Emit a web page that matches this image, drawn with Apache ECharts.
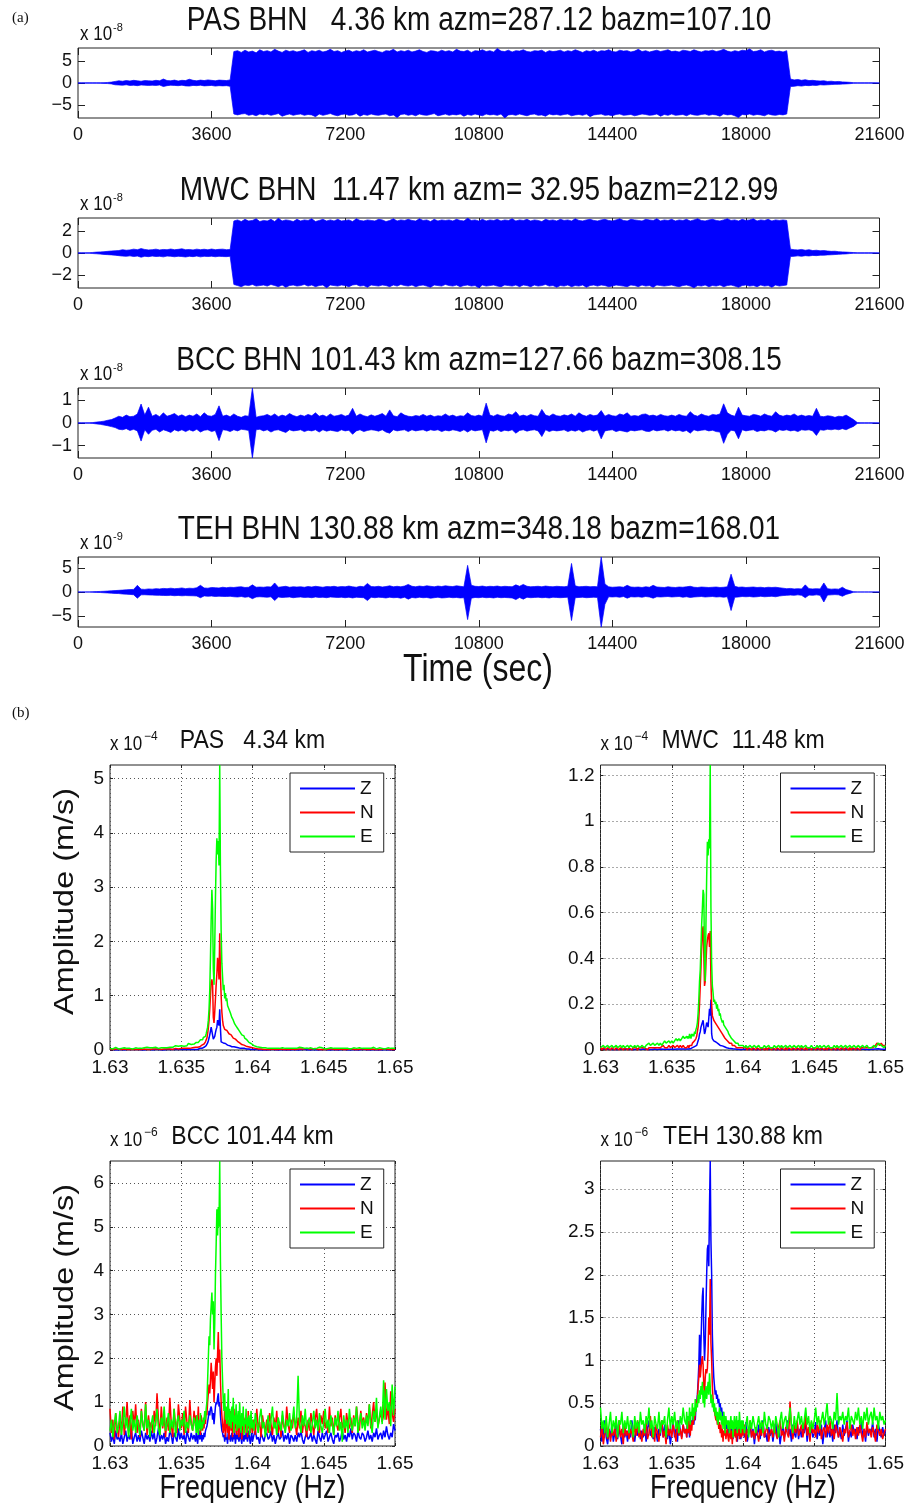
<!DOCTYPE html>
<html><head><meta charset="utf-8">
<script src="https://cdn.jsdelivr.net/npm/echarts@6/dist/echarts.min.js"></script>
<style>html,body{margin:0;padding:0;background:#fff}#c{width:908px;height:1503px}</style>
</head><body><div id="c"></div><script>
// ================= DATA =================
// (a) seismogram envelopes, one sample every TIME_STEP seconds from 0 to 21600
const TIME_STEP = 100;
const TIME_END = 21600;
const TIME_TICKS = [0, 3600, 7200, 10800, 14400, 18000, 21600];
const SEIS_TITLES = ['PAS BHN   4.36 km azm=287.12 bazm=107.10', 'MWC BHN  11.47 km azm= 32.95 bazm=212.99',
  'BCC BHN 101.43 km azm=127.66 bazm=308.15', 'TEH BHN 130.88 km azm=348.18 bazm=168.01'];
const SEIS_EXP = ['-8', '-8', '-8', '-9'];
const SEIS_YTICKS = [[-5, 0, 5], [-2, 0, 2], [-1, 0, 1], [-5, 0, 5]];
const SEIS_YLIM = [7.9, 3.17, 1.55, 7.36];

const PAS_UP = [
0.03,0.03,0.03,0.03,0.03,0.04,0.05,0.08,0.12,0.2,
0.35,0.5,0.4,0.55,0.45,0.6,0.5,0.4,0.55,0.5,
0.45,0.6,0.5,0.9,0.55,0.5,0.65,0.45,0.6,0.55,
0.85,0.6,0.5,0.65,0.55,0.7,0.6,0.5,0.65,0.6,
0.55,0.7,7.1,7.3,6.9,7.4,7.0,7.2,6.8,7.5,
7.1,7.3,7.0,7.6,7.2,6.9,7.4,7.1,7.3,7.0,
7.2,7.5,6.9,7.3,7.1,7.4,7.0,7.2,7.6,7.1,
7.3,6.9,7.2,7.4,7.0,7.3,7.1,7.5,7.0,7.2,
7.4,7.1,6.9,7.3,7.2,7.6,7.0,7.3,7.1,7.4,
7.0,7.2,7.5,7.1,6.9,7.3,7.2,7.0,7.4,7.1,
7.3,7.0,7.6,7.2,7.1,7.4,6.9,7.3,7.2,7.5,
7.1,7.3,7.0,7.8,7.2,7.1,7.4,7.0,7.3,7.2,
7.5,7.1,7.0,7.3,7.2,7.4,6.9,7.3,7.1,7.2,
7.4,7.0,7.3,7.1,7.5,7.2,6.9,7.3,7.1,7.4,
7.0,7.3,7.2,7.5,7.1,7.0,7.4,7.2,7.3,7.0,
7.2,7.6,7.1,7.3,7.0,7.2,7.4,7.1,7.3,7.5,
7.1,7.2,7.0,7.4,7.3,7.1,7.5,7.2,7.0,7.3,
7.2,7.4,7.1,7.3,7.6,7.2,7.0,7.3,7.1,7.4,
7.3,7.7,7.1,7.2,7.5,7.0,7.3,7.4,7.1,7.2,
7.0,7.3,0.9,0.7,0.8,0.6,0.75,0.55,0.6,0.5,
0.45,0.5,0.35,0.4,0.3,0.35,0.25,0.2,0.15,0.08,
0.03,0.03,0.03,0.03,0.03,0.03,0.03];
const PAS_LO = [
-0.03,-0.03,-0.03,-0.03,-0.03,-0.04,-0.06,-0.09,-0.13,-0.2,
-0.4,-0.45,-0.5,-0.4,-0.55,-0.5,-0.6,-0.45,-0.5,-0.55,
-0.5,-0.55,-0.45,-0.8,-0.6,-0.5,-0.55,-0.6,-0.5,-0.65,
-0.7,-0.55,-0.6,-0.5,-0.65,-0.6,-0.55,-0.7,-0.6,-0.65,
-0.6,-0.75,-7.0,-7.2,-7.0,-6.9,-7.3,-7.1,-7.4,-7.0,
-7.2,-7.0,-7.3,-7.1,-6.9,-7.5,-7.2,-7.0,-7.3,-7.1,
-7.0,-7.3,-7.1,-7.2,-7.6,-7.0,-7.3,-7.1,-6.9,-7.2,
-7.4,-7.1,-7.0,-7.3,-7.2,-6.9,-7.5,-7.1,-7.3,-7.0,
-7.2,-7.3,-7.1,-7.0,-7.4,-7.2,-7.8,-7.1,-7.0,-7.3,
-7.1,-7.4,-7.0,-7.2,-7.3,-7.1,-6.9,-7.4,-7.2,-7.0,
-7.3,-7.1,-7.2,-7.0,-7.5,-7.1,-7.3,-7.0,-7.2,-7.4,
-7.0,-7.2,-7.1,-7.3,-7.0,-7.9,-7.2,-7.1,-7.3,-7.0,
-7.2,-7.4,-7.1,-7.0,-7.3,-7.2,-7.5,-7.0,-7.2,-7.1,
-7.3,-7.1,-7.0,-7.4,-7.2,-7.1,-7.3,-7.0,-7.6,-7.2,
-7.1,-7.0,-7.3,-7.2,-7.4,-7.1,-7.0,-7.3,-7.2,-7.1,
-7.4,-7.2,-7.0,-7.1,-7.3,-7.2,-7.0,-7.5,-7.1,-7.3,
-7.0,-7.3,-7.2,-7.1,-7.4,-7.0,-7.2,-7.3,-7.1,-7.0,
-7.3,-7.1,-7.2,-7.5,-7.0,-7.2,-7.1,-7.4,-7.8,-7.1,
-7.2,-7.0,-7.3,-7.1,-7.2,-7.4,-7.0,-7.2,-7.3,-7.1,
-7.2,-7.0,-0.8,-0.75,-0.6,-0.7,-0.55,-0.6,-0.5,-0.55,
-0.4,-0.45,-0.4,-0.35,-0.3,-0.3,-0.25,-0.2,-0.15,-0.08,
-0.03,-0.03,-0.03,-0.03,-0.03,-0.03,-0.03];

const MWC_UP = [
0.02,0.02,0.02,0.02,0.05,0.08,0.1,0.12,0.15,0.18,
0.2,0.22,0.3,0.25,0.28,0.35,0.3,0.4,0.32,0.28,
0.3,0.35,0.28,0.32,0.3,0.36,0.3,0.33,0.38,0.3,
0.32,0.28,0.35,0.3,0.34,0.29,0.36,0.3,0.33,0.35,
0.3,0.32,2.9,3.0,2.85,3.05,2.9,2.95,3.1,2.85,
2.95,2.9,3.05,2.85,3.15,2.9,3.0,2.95,2.85,3.05,
2.9,3.0,2.95,3.1,2.85,2.95,3.05,2.9,3.0,2.9,
3.05,2.9,2.95,3.0,2.85,3.1,2.95,2.9,3.0,2.95,
2.9,3.05,3.0,2.85,2.95,3.1,2.9,3.0,2.95,3.05,
2.95,2.9,3.1,2.95,3.0,2.85,3.05,2.9,3.0,2.95,
3.0,2.9,3.05,2.95,2.9,3.15,2.95,3.0,2.9,3.05,
2.9,3.0,2.95,3.05,2.9,3.0,2.95,3.1,2.9,3.0,
2.95,3.05,2.9,3.0,2.95,2.85,3.05,2.95,3.0,2.9,
3.05,2.95,3.0,2.9,3.1,2.95,2.9,3.0,3.05,2.95,
2.9,3.0,3.05,2.95,2.9,3.0,3.1,2.95,2.9,3.05,
3.0,2.95,2.9,3.05,3.0,2.95,3.1,2.9,3.0,2.95,
3.05,2.9,3.0,2.95,3.05,2.9,3.0,3.1,2.95,2.9,
3.0,3.05,2.95,2.9,3.0,3.1,2.95,3.0,2.9,3.05,
2.95,3.0,3.1,2.9,3.0,2.95,3.05,2.9,3.0,2.95,
3.0,2.95,0.35,0.3,0.28,0.32,0.25,0.3,0.22,0.25,
0.2,0.22,0.18,0.15,0.16,0.12,0.1,0.08,0.06,0.04,
0.02,0.02,0.02,0.02,0.02,0.02,0.02];
const MWC_LO = [
-0.02,-0.02,-0.02,-0.02,-0.05,-0.07,-0.1,-0.13,-0.15,-0.17,
-0.2,-0.24,-0.28,-0.3,-0.26,-0.32,-0.28,-0.38,-0.3,-0.33,
-0.28,-0.32,-0.3,-0.35,-0.28,-0.3,-0.34,-0.3,-0.32,-0.36,
-0.3,-0.33,-0.28,-0.35,-0.3,-0.32,-0.29,-0.34,-0.3,-0.32,
-0.33,-0.3,-2.85,-2.95,-3.05,-2.9,-2.95,-2.85,-3.0,-2.95,
-2.9,-3.0,-2.85,-2.95,-3.05,-2.9,-3.1,-2.95,-2.9,-3.0,
-2.95,-2.85,-3.0,-2.9,-3.05,-2.95,-2.9,-3.15,-2.9,-2.95,
-3.0,-2.9,-2.95,-3.05,-2.9,-2.85,-3.0,-2.95,-3.1,-2.9,
-2.95,-3.0,-2.9,-2.95,-3.05,-2.9,-3.0,-2.85,-2.95,-3.0,
-2.9,-3.05,-2.95,-2.9,-3.0,-3.1,-2.9,-2.95,-3.0,-2.85,
-2.95,-3.0,-2.9,-3.05,-2.95,-2.9,-3.0,-2.95,-3.15,-2.9,
-3.0,-2.95,-2.9,-3.0,-3.05,-2.9,-2.95,-3.0,-2.9,-3.05,
-2.9,-2.95,-3.05,-2.9,-3.0,-2.95,-2.85,-3.0,-2.95,-3.1,
-2.95,-3.0,-2.9,-3.05,-2.95,-3.0,-2.9,-3.1,-2.95,-2.9,
-3.0,-2.9,-2.95,-3.05,-3.0,-2.9,-2.95,-3.0,-3.05,-2.9,
-2.95,-3.05,-2.9,-3.0,-2.95,-3.1,-2.9,-2.95,-3.0,-2.95,
-2.9,-3.0,-3.05,-2.95,-2.9,-3.0,-3.15,-2.95,-3.0,-2.9,
-3.05,-2.95,-3.0,-2.9,-3.05,-2.95,-2.9,-3.0,-3.1,-2.95,
-2.9,-3.0,-2.95,-3.05,-2.9,-3.0,-2.95,-3.1,-2.9,-3.0,
-2.95,-2.9,-0.32,-0.3,-0.26,-0.3,-0.24,-0.27,-0.22,-0.24,
-0.2,-0.2,-0.17,-0.16,-0.14,-0.12,-0.1,-0.08,-0.05,-0.03,
-0.02,-0.02,-0.02,-0.02,-0.02,-0.02,-0.02];

const BCC_UP = [
0.01,0.01,0.01,0.01,0.02,0.04,0.06,0.08,0.12,0.15,
0.22,0.3,0.25,0.35,0.28,0.3,0.4,0.84,0.35,0.7,
0.3,0.38,0.28,0.45,0.3,0.35,0.42,0.3,0.36,0.28,
0.35,0.3,0.4,0.28,0.45,0.32,0.3,0.38,0.76,0.3,
0.35,0.28,0.4,0.3,0.25,0.32,0.3,1.55,0.25,0.3,
0.32,0.38,0.3,0.4,0.28,0.35,0.3,0.42,0.33,0.28,
0.35,0.3,0.38,0.32,0.45,0.3,0.35,0.28,0.4,0.3,
0.33,0.38,0.3,0.35,0.65,0.3,0.4,0.32,0.28,0.36,
0.3,0.35,0.42,0.3,0.58,0.32,0.28,0.45,0.35,0.3,
0.28,0.33,0.3,0.38,0.3,0.35,0.28,0.32,0.3,0.4,
0.3,0.35,0.28,0.32,0.3,0.45,0.33,0.3,0.35,0.3,
0.88,0.35,0.3,0.38,0.32,0.3,0.4,0.35,0.5,0.3,
0.35,0.3,0.38,0.32,0.3,0.6,0.35,0.3,0.4,0.32,
0.3,0.36,0.32,0.4,0.3,0.45,0.35,0.3,0.38,0.32,
0.35,0.55,0.3,0.38,0.32,0.3,0.4,0.35,0.45,0.3,
0.33,0.3,0.38,0.4,0.32,0.35,0.3,0.38,0.32,0.3,
0.35,0.3,0.38,0.32,0.3,0.5,0.35,0.3,0.4,0.33,
0.3,0.38,0.35,0.4,0.85,0.45,0.35,0.3,0.7,0.35,
0.32,0.3,0.38,0.35,0.3,0.4,0.33,0.3,0.5,0.35,
0.3,0.35,0.32,0.4,0.3,0.35,0.3,0.33,0.3,0.65,
0.3,0.28,0.32,0.3,0.25,0.3,0.28,0.35,0.25,0.15,
0.02,0.01,0.01,0.01,0.01,0.01,0.01];
const BCC_LO = [
-0.01,-0.01,-0.01,-0.01,-0.02,-0.04,-0.06,-0.09,-0.12,-0.16,
-0.2,-0.28,-0.3,-0.25,-0.33,-0.28,-0.35,-0.8,-0.3,-0.5,
-0.32,-0.28,-0.4,-0.3,-0.35,-0.42,-0.3,-0.36,-0.3,-0.38,
-0.3,-0.36,-0.28,-0.4,-0.32,-0.3,-0.38,-0.33,-0.78,-0.3,
-0.32,-0.38,-0.3,-0.35,-0.28,-0.3,-0.33,-1.55,-0.3,-0.28,
-0.35,-0.3,-0.4,-0.32,-0.3,-0.36,-0.42,-0.3,-0.35,-0.33,
-0.3,-0.38,-0.32,-0.35,-0.3,-0.4,-0.3,-0.36,-0.32,-0.35,
-0.38,-0.3,-0.35,-0.32,-0.5,-0.35,-0.3,-0.38,-0.33,-0.3,
-0.32,-0.36,-0.3,-0.4,-0.45,-0.3,-0.35,-0.32,-0.3,-0.38,
-0.3,-0.35,-0.32,-0.3,-0.36,-0.3,-0.33,-0.3,-0.38,-0.32,
-0.35,-0.3,-0.33,-0.38,-0.3,-0.4,-0.3,-0.35,-0.32,-0.3,
-0.88,-0.33,-0.36,-0.3,-0.38,-0.32,-0.35,-0.3,-0.45,-0.33,
-0.3,-0.36,-0.32,-0.3,-0.35,-0.6,-0.3,-0.38,-0.32,-0.35,
-0.33,-0.3,-0.38,-0.32,-0.36,-0.3,-0.4,-0.33,-0.3,-0.36,
-0.3,-0.7,-0.35,-0.32,-0.3,-0.38,-0.33,-0.36,-0.4,-0.32,
-0.35,-0.32,-0.3,-0.36,-0.38,-0.3,-0.35,-0.32,-0.3,-0.36,
-0.3,-0.35,-0.32,-0.38,-0.33,-0.45,-0.3,-0.35,-0.32,-0.3,
-0.35,-0.32,-0.38,-0.4,-0.9,-0.5,-0.32,-0.35,-0.7,-0.3,
-0.35,-0.32,-0.3,-0.38,-0.33,-0.35,-0.3,-0.32,-0.4,-0.3,
-0.33,-0.3,-0.35,-0.32,-0.38,-0.3,-0.32,-0.3,-0.35,-0.55,
-0.3,-0.32,-0.28,-0.3,-0.27,-0.3,-0.25,-0.3,-0.22,-0.15,
-0.02,-0.01,-0.01,-0.01,-0.01,-0.01,-0.01];

const TEH_UP = [
0.02,0.02,0.02,0.02,0.05,0.08,0.12,0.15,0.2,0.25,
0.3,0.35,0.4,0.45,0.5,0.55,1.4,0.6,0.55,0.65,
0.6,0.7,0.65,0.75,0.7,0.8,0.7,0.75,0.85,0.7,
0.8,0.75,0.9,1.4,0.85,0.8,0.95,0.9,0.85,1.0,
0.9,1.0,0.95,1.05,1.1,0.95,1.0,1.5,1.0,1.05,
1.0,1.1,1.05,1.9,1.0,1.1,1.2,1.0,1.1,1.05,
1.1,1.0,1.15,1.05,1.2,1.1,1.0,1.15,1.1,1.2,
1.05,1.15,1.1,1.25,1.1,1.0,1.2,1.1,1.8,1.15,
1.1,1.2,1.05,1.15,1.3,1.1,1.2,1.1,1.25,1.6,
1.2,1.1,1.25,1.15,1.3,1.2,1.1,1.25,1.15,1.3,
1.2,1.15,1.3,1.2,1.1,5.6,1.4,1.2,1.15,1.25,
1.1,1.2,1.15,1.25,1.1,1.2,1.15,1.1,1.5,1.2,
1.6,1.2,1.1,1.15,1.2,1.1,1.25,1.15,1.1,1.2,
1.15,1.1,1.2,6.0,1.3,1.1,1.15,1.2,1.1,1.15,
1.1,7.4,1.7,1.1,1.0,1.05,1.1,1.0,1.4,1.05,
1.0,1.05,0.95,1.1,1.0,1.4,1.05,1.0,0.95,1.1,
1.0,0.95,1.05,1.0,1.1,1.2,1.0,0.95,1.05,1.0,
0.95,1.0,1.05,0.95,1.0,1.1,3.75,1.2,1.0,1.05,
0.95,1.0,1.05,0.95,1.0,0.9,1.0,0.95,1.0,0.9,
0.8,0.7,0.75,0.65,0.7,0.65,1.5,0.7,0.65,0.7,
0.65,1.9,0.7,0.6,0.65,0.6,1.0,0.5,0.3,0.05,
0.02,0.02,0.02,0.02,0.02,0.02,0.02];
const TEH_LO = [
-0.02,-0.02,-0.02,-0.02,-0.05,-0.08,-0.11,-0.16,-0.2,-0.24,
-0.3,-0.33,-0.42,-0.45,-0.5,-0.58,-1.3,-0.6,-0.58,-0.62,
-0.65,-0.68,-0.7,-0.72,-0.75,-0.7,-0.78,-0.72,-0.8,-0.75,
-0.78,-0.8,-0.85,-1.2,-0.82,-0.9,-0.85,-0.95,-0.88,-0.92,
-0.95,-0.9,-1.0,-1.05,-0.95,-1.1,-1.0,-1.4,-1.05,-1.0,
-1.05,-1.1,-1.0,-1.8,-1.05,-1.15,-1.1,-1.05,-1.2,-1.1,
-1.05,-1.15,-1.1,-1.2,-1.05,-1.15,-1.1,-1.2,-1.05,-1.1,
-1.15,-1.1,-1.2,-1.1,-1.25,-1.1,-1.15,-1.2,-1.8,-1.1,
-1.2,-1.1,-1.15,-1.25,-1.1,-1.2,-1.15,-1.3,-1.1,-1.5,
-1.15,-1.25,-1.1,-1.2,-1.15,-1.3,-1.2,-1.1,-1.25,-1.2,
-1.1,-1.2,-1.15,-1.25,-1.2,-5.8,-1.3,-1.15,-1.2,-1.1,
-1.2,-1.15,-1.25,-1.1,-1.2,-1.15,-1.2,-1.25,-1.6,-1.15,
-1.5,-1.1,-1.2,-1.15,-1.1,-1.2,-1.15,-1.25,-1.1,-1.15,
-1.2,-1.15,-1.1,-6.0,-1.2,-1.15,-1.1,-1.2,-1.15,-1.1,
-1.15,-7.4,-2.6,-1.0,-1.05,-1.0,-1.1,-0.95,-1.3,-1.0,
-1.05,-1.0,-1.1,-0.95,-1.05,-1.3,-1.0,-1.05,-1.0,-0.95,
-1.05,-1.0,-0.95,-1.1,-1.0,-1.15,-1.05,-1.0,-0.95,-1.05,
-1.0,-0.95,-1.05,-1.0,-1.1,-1.0,-3.9,-1.1,-1.05,-0.95,
-1.0,-0.95,-1.05,-1.0,-0.9,-1.0,-0.95,-0.9,-1.0,-0.85,
-0.75,-0.7,-0.65,-0.7,-0.6,-0.7,-1.2,-0.65,-0.7,-0.6,
-0.7,-2.1,-0.65,-0.6,-0.55,-0.6,-0.9,-0.5,-0.3,-0.05,
-0.02,-0.02,-0.02,-0.02,-0.02,-0.02,-0.02];

// (b) spectra; frequency sample grid: [start, end, step]
const FREQ_SEGMENTS = [[1.6300, 1.6359, 0.0001], [1.6360, 1.63995, 0.00005], [1.6400, 1.6500, 0.0001]];
const FREQ_TICKS = [1.63, 1.635, 1.64, 1.645, 1.65];
const SPEC_TITLES = ['PAS   4.34 km', 'MWC  11.48 km', 'BCC 101.44 km', 'TEH 130.88 km'];
const SPEC_EXP = ['\u22124', '\u22124', '\u22126', '\u22126'];
const SPEC_YTICKS = [[0,1,2,3,4,5], [0,0.2,0.4,0.6,0.8,1,1.2], [0,1,2,3,4,5,6], [0,0.5,1,1.5,2,2.5,3]];
const SPEC_YMAX = [5.25, 1.245, 6.5, 3.33];
const SPEC_YSTEP = [1, 0.2, 1, 0.5];
const COMPONENTS = ['Z', 'N', 'E'];

const PAS_Z = [
0.01,0,0.01,0.01,0,0.01,0,0.01,0.01,0,
0,0.01,0.01,0,0.01,0,0.01,0,0.01,0.01,
0.01,0.01,0,0.01,0,0.01,0.01,0,0.01,0,
0,0.01,0.01,0,0.01,0.01,0,0.01,0,0.01,
0.01,0,0.01,0.01,0.01,0,0.01,0.01,0.01,0.01,
0.01,0.01,0.01,0.01,0.01,0.01,0.01,0.01,0.01,0.01,
0.01,0.01,0.02,0.01,0.02,0.02,0.03,0.02,0.03,0.03,
0.04,0.04,0.05,0.06,0.07,0.08,0.1,0.13,0.17,0.22,
0.28,0.35,0.42,0.45,0.4,0.2,0.18,0.25,0.32,0.38,
0.42,0.55,0.5,0.45,0.75,0.4,0.15,0.13,0.12,0.13,
0.12,0.11,0.12,0.1,0.1,0.09,0.1,0.08,0.08,0.07,
0.07,0.06,0.07,0.06,0.06,0.05,0.05,0.05,0.04,0.05,
0.04,0.04,0.04,0.03,0.04,0.03,0.03,0.03,0.02,0.03,
0.02,0.02,0.02,0.02,0.01,0.02,0.01,0.01,0.01,0.01,
0.01,0.01,0.01,0.01,0.01,0,0.01,0,0.01,0,
0.01,0,0,0.01,0,0.01,0,0,0.01,0,
0,0.01,0,0,0.01,0,0.01,0,0,0.01,
0,0,0.01,0,0,0.01,0,0.01,0,0,
0.01,0,0,0.01,0,0,0.01,0,0,0.01,
0,0.01,0,0,0.01,0,0,0.01,0,0,
0.01,0,0,0.01,0,0.01,0,0,0.01,0,
0,0.01,0,0,0.01,0,0,0.01,0,0.01,
0,0,0.01,0,0,0.01,0,0,0.01,0,
0.01,0,0,0.01,0,0,0.01,0,0,0.01,
0];
const PAS_N = [
0.01,0.02,0.01,0.01,0.02,0.01,0.02,0.01,0.01,0.02,
0.02,0.01,0.01,0.02,0.01,0.02,0.01,0.02,0.01,0.01,
0.01,0.02,0.01,0.02,0.02,0.01,0.01,0.02,0.01,0.02,
0.02,0.01,0.02,0.01,0.02,0.02,0.01,0.02,0.02,0.01,
0.02,0.01,0.02,0.02,0.01,0.02,0.03,0.02,0.02,0.03,
0.03,0.02,0.03,0.04,0.03,0.04,0.03,0.05,0.04,0.05,
0.05,0.04,0.06,0.05,0.06,0.07,0.06,0.08,0.07,0.09,
0.1,0.12,0.11,0.14,0.15,0.18,0.22,0.3,0.4,0.55,
0.75,1.0,1.25,1.3,1.2,0.6,0.5,0.7,0.95,1.2,
1.4,1.7,1.55,1.3,2.15,1.4,1.0,0.7,0.55,0.45,
0.42,0.38,0.4,0.35,0.36,0.33,0.34,0.3,0.31,0.28,
0.28,0.25,0.25,0.22,0.22,0.2,0.2,0.18,0.18,0.16,
0.15,0.14,0.13,0.12,0.12,0.1,0.1,0.09,0.09,0.08,
0.08,0.07,0.07,0.06,0.06,0.05,0.05,0.05,0.04,0.04,
0.04,0.03,0.03,0.03,0.02,0.02,0.02,0.02,0.01,0.02,
0.01,0.02,0.01,0.01,0.02,0.01,0.01,0.02,0.01,0.01,
0.02,0.01,0.01,0.02,0.01,0.02,0.01,0.01,0.02,0.01,
0.01,0.02,0.02,0.01,0.02,0.03,0.02,0.02,0.03,0.02,
0.02,0.03,0.02,0.02,0.03,0.02,0.01,0.02,0.01,0.01,
0.01,0.02,0.01,0.01,0.02,0.01,0.02,0.01,0.01,0.02,
0.01,0.01,0.02,0.01,0.01,0.02,0.01,0.01,0.02,0.01,
0.02,0.01,0.01,0.02,0.01,0.01,0.02,0.01,0.02,0.01,
0.01,0.02,0.01,0.01,0.02,0.01,0.01,0.02,0.01,0.02,
0.01,0.01,0.02,0.01,0.02,0.01,0.01,0.02,0.01,0.01,
0.01];
const PAS_E = [
0.03,0.04,0.02,0.03,0.05,0.03,0.02,0.04,0.03,0.03,
0.04,0.02,0.03,0.05,0.03,0.04,0.02,0.03,0.04,0.03,
0.03,0.05,0.03,0.02,0.04,0.03,0.05,0.03,0.04,0.03,
0.04,0.03,0.05,0.04,0.03,0.05,0.04,0.06,0.04,0.05,
0.04,0.06,0.05,0.07,0.05,0.06,0.08,0.05,0.07,0.06,
0.08,0.1,0.07,0.09,0.08,0.12,0.09,0.1,0.13,0.11,
0.12,0.14,0.12,0.16,0.14,0.17,0.15,0.19,0.17,0.21,
0.19,0.23,0.22,0.26,0.25,0.3,0.33,0.42,0.55,0.75,
1.1,1.7,2.4,2.95,2.6,1.5,1.2,1.9,2.8,3.5,
3.9,3.6,3.85,3.4,5.25,3.3,2.2,1.6,1.35,1.1,
1.2,0.95,1.05,0.9,0.95,0.82,0.85,0.75,0.78,0.68,
0.7,0.6,0.62,0.55,0.56,0.48,0.5,0.44,0.45,0.4,
0.41,0.36,0.37,0.32,0.33,0.28,0.29,0.25,0.26,0.22,
0.22,0.19,0.19,0.16,0.16,0.14,0.14,0.12,0.12,0.1,
0.09,0.08,0.07,0.06,0.06,0.05,0.05,0.04,0.05,0.04,
0.04,0.03,0.04,0.03,0.04,0.03,0.02,0.03,0.04,0.03,
0.03,0.04,0.02,0.03,0.04,0.03,0.05,0.03,0.02,0.03,
0.04,0.03,0.03,0.05,0.03,0.04,0.02,0.03,0.04,0.03,
0.03,0.04,0.03,0.02,0.04,0.03,0.03,0.05,0.03,0.04,
0.03,0.02,0.04,0.03,0.03,0.04,0.02,0.03,0.04,0.03,
0.04,0.03,0.02,0.03,0.04,0.03,0.05,0.03,0.03,0.02,
0.03,0.04,0.03,0.03,0.02,0.04,0.03,0.03,0.04,0.03,
0.02,0.03,0.04,0.03,0.03,0.05,0.03,0.02,0.03,0.04,
0.03,0.03,0.04,0.02,0.03,0.04,0.03,0.03,0.04,0.03,
0.03];

const MWC_Z = [
0.003,0.002,0.004,0.002,0.003,0.002,0.003,0.004,0.002,0.003,
0.002,0.003,0.002,0.004,0.003,0.002,0.003,0.002,0.004,0.002,
0.003,0.004,0.002,0.003,0.002,0.003,0.004,0.003,0.002,0.003,
0.004,0.002,0.003,0.003,0.002,0.004,0.002,0.003,0.004,0.003,
0.002,0.003,0.004,0.002,0.003,0.004,0.003,0.002,0.003,0.004,
0.003,0.004,0.003,0.002,0.004,0.003,0.004,0.003,0.004,0.003,
0.004,0.003,0.005,0.004,0.005,0.005,0.005,0.01,0.005,0.01,
0.01,0.01,0.015,0.015,0.02,0.02,0.03,0.04,0.05,0.07,
0.08,0.1,0.11,0.12,0.13,0.1,0.07,0.08,0.1,0.12,
0.12,0.1,0.14,0.18,0.15,0.22,0.07,0.05,0.045,0.04,
0.04,0.035,0.035,0.03,0.03,0.028,0.025,0.025,0.02,0.02,
0.02,0.018,0.016,0.015,0.014,0.012,0.012,0.01,0.01,0.01,
0.008,0.008,0.007,0.007,0.006,0.006,0.005,0.005,0.005,0.004,
0.004,0.004,0.003,0.003,0.003,0.002,0.002,0.002,0.002,0.002,
0.002,0.003,0.002,0.004,0.002,0.003,0.002,0.003,0.004,0.002,
0.003,0.002,0.004,0.003,0.002,0.003,0.002,0.004,0.002,0.003,
0.002,0.004,0.003,0.002,0.003,0.002,0.004,0.002,0.003,0.002,
0.004,0.002,0.003,0.002,0.004,0.003,0.002,0.003,0.002,0.004,
0.003,0.002,0.004,0.002,0.003,0.002,0.003,0.004,0.002,0.003,
0.002,0.003,0.002,0.004,0.002,0.003,0.004,0.002,0.003,0.002,
0.004,0.003,0.002,0.003,0.004,0.002,0.003,0.002,0.004,0.003,
0.002,0.004,0.003,0.002,0.003,0.004,0.002,0.003,0.002,0.004,
0.003,0.002,0.004,0.003,0.002,0.003,0.004,0.002,0.003,0.002,
0.004,0.003,0.002,0.004,0.003,0.005,0.004,0.003,0.004,0.003,
0.003];
const MWC_N = [
0.01,0,0.01,0.01,0,0.01,0.01,0,0.01,0.01,
0,0.01,0.01,0,0.01,0.01,0,0.01,0.01,0,
0.01,0.01,0,0.01,0.01,0.01,0,0.01,0.01,0.01,
0.01,0.01,0.01,0,0.01,0.01,0.01,0.01,0.01,0.01,
0.01,0.01,0.01,0.01,0.02,0.01,0.01,0.01,0.02,0.01,
0.01,0.02,0.01,0.01,0.02,0.01,0.02,0.01,0.02,0.01,
0.01,0.01,0.01,0.02,0.01,0.02,0.02,0.02,0.02,0.03,
0.03,0.03,0.04,0.04,0.05,0.06,0.08,0.1,0.14,0.2,
0.28,0.36,0.45,0.52,0.54,0.42,0.28,0.3,0.38,0.45,
0.48,0.5,0.51,0.45,0.52,0.3,0.2,0.15,0.14,0.13,
0.13,0.12,0.12,0.11,0.11,0.1,0.1,0.09,0.09,0.08,
0.08,0.07,0.07,0.06,0.06,0.05,0.05,0.05,0.04,0.04,
0.04,0.03,0.03,0.03,0.03,0.02,0.02,0.02,0.02,0.02,
0.02,0.01,0.01,0.01,0.01,0.01,0.01,0.01,0.01,0.01,
0.01,0.01,0.01,0,0.01,0.01,0,0.01,0.01,0,
0.01,0.01,0,0.01,0.01,0,0.01,0,0.01,0.01,
0,0.01,0.01,0,0.01,0.01,0,0.01,0.01,0,
0.01,0,0.01,0.01,0,0.01,0.01,0,0.01,0.01,
0,0.01,0.01,0,0.01,0,0.01,0.01,0,0.01,
0.01,0,0.01,0.01,0,0.01,0.01,0,0.01,0,
0.01,0.01,0,0.01,0.01,0,0.01,0.01,0,0.01,
0.01,0,0.01,0.01,0,0.01,0,0.01,0.01,0,
0.01,0.01,0,0.01,0.01,0.01,0.01,0.01,0.01,0.01,
0.01,0.01,0.01,0.02,0.03,0.03,0.02,0.03,0.02,0.02,
0.02];
const MWC_E = [
0.01,0.01,0.02,0.01,0.01,0.02,0.01,0.01,0.02,0.01,
0.01,0.02,0.01,0.01,0.02,0.01,0.02,0.01,0.01,0.02,
0.01,0.02,0.02,0.01,0.02,0.01,0.02,0.02,0.01,0.02,
0.02,0.01,0.02,0.02,0.03,0.02,0.02,0.03,0.02,0.02,
0.03,0.02,0.03,0.02,0.03,0.04,0.03,0.03,0.04,0.03,
0.04,0.03,0.04,0.05,0.04,0.05,0.04,0.05,0.06,0.05,
0.05,0.06,0.05,0.06,0.05,0.07,0.06,0.05,0.07,0.06,
0.07,0.06,0.08,0.07,0.09,0.1,0.12,0.16,0.22,0.3,
0.35,0.45,0.55,0.62,0.7,0.68,0.4,0.3,0.55,0.75,
0.91,0.85,0.92,0.88,1.245,0.62,0.38,0.28,0.25,0.21,
0.22,0.2,0.21,0.18,0.2,0.17,0.18,0.15,0.16,0.14,
0.14,0.12,0.13,0.11,0.11,0.1,0.1,0.09,0.09,0.08,
0.07,0.07,0.06,0.06,0.05,0.05,0.05,0.04,0.04,0.04,
0.03,0.03,0.03,0.03,0.02,0.02,0.02,0.02,0.02,0.02,
0.02,0.01,0.02,0.01,0.01,0.02,0.01,0.01,0.02,0.01,
0.01,0.02,0.01,0.01,0.01,0.02,0.01,0.01,0.02,0.01,
0.01,0.01,0.02,0.01,0.01,0.02,0.01,0.02,0.01,0.01,
0.02,0.01,0.01,0.02,0.01,0.01,0.02,0.01,0.01,0.02,
0.01,0.02,0.01,0.01,0.02,0.01,0.01,0.01,0.02,0.01,
0.01,0.01,0.02,0.01,0.02,0.01,0.01,0.02,0.01,0.01,
0.02,0.01,0.01,0.01,0.02,0.01,0.02,0.01,0.01,0.02,
0.01,0.01,0.02,0.01,0.01,0.02,0.01,0.01,0.02,0.01,
0.01,0.02,0.01,0.01,0.02,0.01,0.01,0.02,0.01,0.01,
0.01,0.01,0.02,0.01,0.02,0.03,0.03,0.02,0.02,0.01,
0.02];

const BCC_Z = [
0.3,0.1,0.25,0.05,0.35,0.15,0.2,0.1,0.3,0.05,
0.2,0.35,0.1,0.25,0.15,0.4,0.05,0.2,0.3,0.1,
0.25,0.1,0.35,0.2,0.05,0.3,0.15,0.25,0.1,0.35,
0.15,0.3,0.05,0.2,0.4,0.1,0.25,0.15,0.3,0.05,
0.2,0.1,0.35,0.25,0.05,0.3,0.2,0.1,0.4,0.15,
0.3,0.15,0.25,0.05,0.35,0.2,0.1,0.3,0.15,0.25,
0.1,0.3,0.2,0.05,0.25,0.35,0.15,0.2,0.3,0.1,
0.25,0.15,0.3,0.2,0.35,0.4,0.45,0.55,0.65,0.8,
0.7,0.85,0.9,0.8,0.6,0.75,0.5,0.7,0.9,1.0,
0.95,1.1,1.2,0.9,1.0,0.7,0.5,0.35,0.3,0.2,
0.25,0.1,0.3,0.15,0.2,0.05,0.35,0.15,0.25,0.1,
0.2,0.3,0.1,0.25,0.15,0.35,0.05,0.2,0.3,0.15,
0.25,0.1,0.2,0.35,0.15,0.05,0.3,0.2,0.1,0.25,
0.15,0.3,0.2,0.1,0.25,0.35,0.15,0.05,0.2,0.3,
0.1,0.25,0.35,0.15,0.2,0.05,0.3,0.2,0.1,0.25,
0.3,0.15,0.2,0.35,0.1,0.25,0.05,0.2,0.3,0.15,
0.2,0.35,0.1,0.25,0.15,0.3,0.05,0.25,0.2,0.1,
0.25,0.1,0.3,0.2,0.35,0.15,0.05,0.2,0.3,0.15,
0.2,0.3,0.1,0.25,0.15,0.05,0.35,0.2,0.1,0.3,
0.15,0.25,0.35,0.1,0.2,0.3,0.15,0.05,0.25,0.2,
0.3,0.1,0.2,0.35,0.15,0.25,0.1,0.3,0.2,0.4,
0.15,0.3,0.25,0.1,0.35,0.2,0.15,0.3,0.25,0.1,
0.2,0.35,0.15,0.25,0.1,0.3,0.2,0.4,0.15,0.25,
0.3,0.15,0.35,0.2,0.45,0.25,0.15,0.3,0.2,0.5,
0.35];
const BCC_N = [
0.85,0.3,0.6,0.15,0.75,0.4,0.2,0.65,0.3,0.9,
0.25,0.55,1.0,0.35,0.7,0.15,0.8,0.45,0.95,0.3,
0.6,0.2,0.85,0.5,0.35,1.0,0.25,0.7,0.4,0.55,
0.3,0.8,0.45,1.2,0.6,0.25,0.9,0.4,0.7,0.2,
0.65,0.35,1.1,0.5,0.2,0.85,0.45,0.3,0.95,0.6,
0.4,0.75,0.25,0.9,0.55,0.3,1.05,0.5,0.35,0.8,
0.45,0.7,0.3,0.6,0.9,0.4,0.55,0.25,0.7,0.5,
0.35,0.6,0.4,0.75,0.5,0.8,0.7,1.0,1.2,1.4,
1.2,1.5,1.9,1.6,1.3,1.7,1.0,1.4,1.8,2.0,
1.6,2.1,2.6,1.9,2.2,1.5,1.0,0.7,0.5,0.3,
0.4,0.9,0.2,0.55,0.75,0.3,0.6,0.15,0.5,0.8,
0.35,0.65,0.2,0.5,0.85,0.3,0.55,0.7,0.25,0.6,
0.45,0.2,0.7,0.4,0.6,0.15,0.5,0.75,0.3,0.55,
0.65,0.3,0.5,0.2,0.8,0.4,0.55,0.3,0.7,0.45,
0.3,0.6,0.25,0.85,0.4,0.55,0.2,0.7,0.45,0.35,
0.6,0.3,0.75,0.5,0.25,0.65,0.4,0.8,0.3,0.55,
0.2,0.7,0.45,0.35,0.9,0.5,0.3,0.6,0.4,0.75,
0.5,0.25,0.65,0.4,0.8,0.3,0.55,0.45,0.2,0.6,
0.35,0.75,0.5,0.25,0.6,0.85,0.4,0.3,0.7,0.5,
0.8,0.4,0.55,0.3,0.9,0.45,0.65,0.25,0.7,0.5,
0.35,0.6,0.85,0.4,0.55,0.3,0.75,0.5,0.4,0.65,
0.3,0.7,0.45,0.9,0.55,0.35,0.8,0.5,0.65,0.4,
0.75,0.5,0.95,0.4,0.7,1.0,0.55,0.85,0.45,0.6,
0.8,0.55,0.7,1.45,0.6,0.9,0.5,1.25,0.75,0.55,
0.85];
const BCC_E = [
0.35,0.6,0.2,0.5,0.75,0.3,0.45,0.8,0.25,0.55,
0.9,0.4,0.65,0.2,0.5,0.85,0.35,0.6,0.3,0.7,
0.45,0.25,0.8,0.5,0.35,0.95,0.4,0.6,0.2,0.5,
0.7,0.3,0.55,0.85,0.4,0.25,0.65,0.45,0.9,0.35,
0.5,0.75,0.3,0.6,0.4,0.85,0.2,0.55,0.7,0.35,
0.6,0.45,0.8,0.3,0.55,0.4,0.7,0.5,0.35,0.65,
0.5,0.3,0.7,0.45,0.25,0.6,0.4,0.75,0.35,0.55,
0.4,0.65,0.5,0.8,0.6,0.85,1.0,1.5,2.0,2.5,
2.3,2.9,3.2,3.5,3.0,3.3,2.2,2.8,3.9,4.6,
5.4,4.8,5.45,5.0,6.5,4.2,3.0,2.0,1.5,1.0,
0.8,1.2,0.6,0.9,0.5,0.75,1.3,0.45,0.85,0.6,
0.4,0.9,0.55,1.1,0.3,0.7,0.5,0.95,0.35,0.6,
0.8,0.4,1.0,0.55,0.3,0.75,0.45,0.9,0.25,0.6,
0.5,0.85,0.3,0.65,0.45,0.7,0.25,0.55,0.8,0.4,
0.6,0.35,0.75,0.5,0.3,0.65,0.85,0.4,0.55,0.2,
0.45,0.7,0.3,0.6,0.9,0.4,0.55,0.25,0.65,0.5,
0.35,0.8,0.5,0.3,0.6,0.45,0.75,0.35,0.55,0.9,
0.4,0.6,1.6,0.5,0.3,0.7,0.45,0.85,0.35,0.55,
0.65,0.3,0.5,0.8,0.4,0.6,0.35,0.75,0.45,0.3,
0.55,0.85,0.4,0.6,0.3,0.7,0.5,0.25,0.65,0.45,
0.8,0.35,0.55,0.1,0.7,0.4,0.6,0.3,0.85,0.5,
0.35,0.65,0.45,0.9,0.3,0.55,0.75,0.4,0.6,0.35,
0.7,0.45,0.95,0.5,0.3,0.8,0.55,1.1,0.4,0.65,
0.9,0.5,1.5,0.6,1.3,0.8,1.0,0.45,1.4,0.7,
1.35];

const TEH_Z = [
0.2,0.05,0.15,0.3,0.1,0.02,0.2,0.1,0.25,0.05,
0.15,0.3,0.08,0.2,0.12,0.02,0.25,0.1,0.18,0.05,
0.22,0.1,0.3,0.15,0.05,0.2,0.12,0.28,0.08,0.18,
0.1,0.25,0.05,0.2,0.3,0.12,0.18,0.08,0.22,0.15,
0.05,0.2,0.12,0.3,0.1,0.25,0.15,0.08,0.2,0.02,
0.15,0.28,0.1,0.2,0.05,0.3,0.18,0.1,0.25,0.15,
0.2,0.1,0.3,0.15,0.25,0.1,0.35,0.2,0.3,0.25,
0.35,0.25,0.4,0.3,0.45,0.5,0.6,0.75,0.95,1.3,
0.9,1.2,1.5,1.75,1.85,1.3,1.0,1.2,1.6,2.0,
2.3,2.35,2.1,2.8,3.33,2.4,2.0,1.3,1.0,0.8,
0.7,0.6,0.65,0.55,0.6,0.5,0.55,0.45,0.5,0.4,
0.45,0.35,0.4,0.3,0.35,0.25,0.3,0.2,0.28,0.15,
0.25,0.1,0.2,0.3,0.15,0.22,0.08,0.25,0.12,0.2,
0.1,0.25,0.05,0.18,0.3,0.12,0.2,0.08,0.22,0.15,
0.2,0.1,0.28,0.05,0.15,0.25,0.1,0.2,0.02,0.18,
0.12,0.25,0.08,0.2,0.3,0.1,0.15,0.05,0.22,0.12,
0.2,0.05,0.18,0.28,0.1,0.22,0.02,0.15,0.25,0.1,
0.18,0.3,0.12,0.2,0.05,0.25,0.15,0.1,0.28,0.08,
0.2,0.1,0.25,0.15,0.3,0.05,0.2,0.12,0.22,0.1,
0.15,0.28,0.08,0.2,0.12,0.25,0.02,0.18,0.3,0.1,
0.22,0.1,0.2,0.05,0.25,0.15,0.3,0.1,0.18,0.08,
0.25,0.12,0.2,0.3,0.05,0.18,0.1,0.25,0.15,0.2,
0.08,0.22,0.15,0.28,0.1,0.2,0.05,0.25,0.12,0.2,
0.15,0.28,0.1,0.2,0.05,0.25,0.18,0.1,0.22,0.12,
0.18];
const TEH_N = [
0.1,0.25,0.02,0.15,0.3,0.08,0.2,0.05,0.18,0.12,
0.22,0.05,0.15,0.3,0.1,0.2,0.02,0.25,0.12,0.18,
0.08,0.2,0.15,0.05,0.25,0.12,0.3,0.1,0.18,0.05,
0.2,0.12,0.28,0.08,0.15,0.35,0.1,0.2,0.05,0.25,
0.15,0.05,0.22,0.3,0.1,0.18,0.02,0.25,0.12,0.2,
0.1,0.25,0.15,0.05,0.3,0.12,0.2,0.08,0.25,0.15,
0.2,0.1,0.25,0.15,0.3,0.2,0.12,0.28,0.18,0.3,
0.25,0.35,0.3,0.4,0.45,0.5,0.55,0.7,0.8,0.95,
0.8,0.9,1.0,1.05,0.95,0.7,0.6,0.8,0.9,0.85,
0.9,1.1,1.5,1.3,1.95,1.2,1.0,0.7,0.55,0.45,
0.4,0.35,0.3,0.35,0.25,0.3,0.2,0.28,0.15,0.25,
0.1,0.2,0.05,0.18,0.12,0.25,0.08,0.15,0.2,0.1,
0.05,0.15,0.22,0.08,0.18,0.02,0.2,0.12,0.25,0.1,
0.18,0.05,0.2,0.12,0.25,0.08,0.15,0.22,0.1,0.2,
0.12,0.25,0.05,0.2,0.15,0.3,0.1,0.18,0.08,0.22,
0.15,0.05,0.2,0.12,0.28,0.1,0.18,0.25,0.05,0.15,
0.2,0.1,0.25,0.15,0.08,0.22,0.3,0.12,0.18,0.05,
0.22,0.15,0.1,0.52,0.2,0.08,0.25,0.15,0.3,0.12,
0.18,0.25,0.1,0.2,0.35,0.12,0.22,0.05,0.28,0.15,
0.2,0.1,0.25,0.15,0.3,0.08,0.18,0.22,0.1,0.25,
0.15,0.3,0.12,0.2,0.08,0.25,0.18,0.1,0.22,0.15,
0.05,0.2,0.15,0.28,0.1,0.18,0.25,0.12,0.2,0.08,
0.22,0.12,0.25,0.15,0.05,0.2,0.1,0.28,0.15,0.2,
0.1,0.22,0.15,0.05,0.25,0.18,0.12,0.2,0.08,0.15,
0.2];
const TEH_E = [
0.45,0.2,0.3,0.15,0.35,0.1,0.25,0.4,0.15,0.3,
0.2,0.35,0.1,0.3,0.25,0.4,0.15,0.3,0.2,0.35,
0.15,0.3,0.25,0.1,0.35,0.2,0.3,0.15,0.4,0.25,
0.3,0.15,0.35,0.25,0.45,0.2,0.3,0.1,0.35,0.25,
0.2,0.4,0.15,0.3,0.25,0.35,0.1,0.3,0.45,0.2,
0.35,0.25,0.4,0.2,0.3,0.15,0.35,0.25,0.45,0.3,
0.25,0.4,0.2,0.35,0.3,0.45,0.25,0.4,0.35,0.5,
0.3,0.45,0.35,0.55,0.4,0.5,0.45,0.6,0.5,0.65,
0.55,0.7,0.6,0.75,0.5,0.65,0.45,0.6,0.7,0.55,
0.65,0.75,0.6,0.85,0.7,0.5,0.6,0.45,0.55,0.4,
0.5,0.35,0.45,0.3,0.4,0.25,0.35,0.45,0.3,0.4,
0.25,0.35,0.2,0.4,0.3,0.15,0.35,0.25,0.3,0.2,
0.3,0.15,0.25,0.35,0.2,0.3,0.1,0.25,0.35,0.2,
0.25,0.35,0.15,0.3,0.2,0.4,0.25,0.15,0.3,0.2,
0.3,0.15,0.25,0.35,0.1,0.3,0.2,0.35,0.25,0.15,
0.25,0.35,0.2,0.3,0.15,0.4,0.25,0.2,0.35,0.3,
0.2,0.3,0.15,0.35,0.25,0.1,0.3,0.4,0.2,0.3,
0.35,0.2,0.3,0.45,0.25,0.15,0.35,0.2,0.3,0.4,
0.25,0.35,0.2,0.3,0.45,0.25,0.35,0.15,0.3,0.2,
0.3,0.45,0.25,0.35,0.2,0.3,0.4,0.25,0.35,0.5,
0.25,0.35,0.3,0.2,0.4,0.3,0.62,0.25,0.35,0.3,
0.4,0.25,0.35,0.3,0.45,0.2,0.35,0.3,0.25,0.4,
0.3,0.45,0.25,0.35,0.2,0.4,0.3,0.45,0.25,0.35,
0.4,0.25,0.45,0.3,0.35,0.2,0.4,0.3,0.35,0.25,
0.3];

// ================= LAYOUT / STYLE =================
const FONT = "'Liberation Sans', Arial, Helvetica, sans-serif";
const SERIF = "'Liberation Serif', 'Times New Roman', serif";
const BLUE = '#0000ff', RED = '#ff0000', GREEN = '#00ff00';
const A_LEFT = 78, A_W = 801.5, A_H = 70, A_TOPS = [48, 218, 388, 557];
const B_W = 285, B_H = 285, B_POS = [[110, 765], [600.5, 765], [110, 1161], [600.5, 1161]];

const TIMES = [];
for (let t = 0; t <= TIME_END; t += TIME_STEP) TIMES.push(t);
const FREQS = [];
FREQ_SEGMENTS.forEach(([a, b, s]) => {
  const n = Math.round((b - a) / s) + 1;
  for (let i = 0; i < n; i++) FREQS.push(+(a + i * s).toFixed(6));
});

const SEIS = [[PAS_UP, PAS_LO], [MWC_UP, MWC_LO], [BCC_UP, BCC_LO], [TEH_UP, TEH_LO]];
const SPEC = [[PAS_Z, PAS_N, PAS_E], [MWC_Z, MWC_N, MWC_E], [BCC_Z, BCC_N, BCC_E], [TEH_Z, TEH_N, TEH_E]];
const problems = [];
SEIS.forEach((p, i) => p.forEach((a, j) => { if (a.length !== TIMES.length) problems.push('seis ' + i + '/' + j + ' len ' + a.length); }));
SPEC.forEach((p, i) => p.forEach((a, j) => { if (a.length !== FREQS.length) problems.push('spec ' + i + '/' + j + ' len ' + a.length + ' vs ' + FREQS.length); }));

const minus = v => String(v).replace('-', '\u2212');
const plain = v => String(v);
const grids = [], xAxes = [], yAxes = [], series = [], legends = [], graphics = [];
const tickStyle = { color: '#222', width: 1 };
const labelBase = { color: '#111', fontFamily: FONT };
const noLine = { show: false, onZero: false };

function addAxes(gi, xCfg, yCfg) {
  const xi = xAxes.length, yi = yAxes.length;
  xAxes.push(Object.assign({ gridIndex: gi, position: 'bottom' }, xCfg.main));
  xAxes.push(Object.assign({ gridIndex: gi, position: 'top' }, xCfg.mirror));
  yAxes.push(Object.assign({ gridIndex: gi, position: 'left' }, yCfg.main));
  yAxes.push(Object.assign({ gridIndex: gi, position: 'right' }, yCfg.mirror));
  return [xi, yi];
}

// ---- (a) seismograms
A_TOPS.forEach((top, i) => {
  const gi = grids.length;
  grids.push({ left: A_LEFT, top, width: A_W, height: A_H, show: true, borderColor: '#222', borderWidth: 1 });
  const xBase = { type: 'value', min: 0, max: TIME_END, interval: 3600, axisLine: noLine,
    splitLine: { show: false }, axisTick: { inside: true, length: 7, lineStyle: tickStyle } };
  const lim = SEIS_YLIM[i];
  const yBase = { type: 'value', min: -lim, max: lim, axisLine: noLine, splitLine: { show: false },
    axisTick: { inside: true, length: 7, lineStyle: tickStyle, customValues: SEIS_YTICKS[i] } };
  const [xi, yi] = addAxes(gi,
    { main: Object.assign({}, xBase, { axisLabel: Object.assign({ fontSize: 18, margin: 8, customValues: TIME_TICKS, formatter: plain }, labelBase) }),
      mirror: Object.assign({}, xBase, { axisLabel: { show: false } }) },
    { main: Object.assign({}, yBase, { axisLabel: Object.assign({ fontSize: 18, margin: 6, customValues: SEIS_YTICKS[i], formatter: minus }, labelBase) }),
      mirror: Object.assign({}, yBase, { axisLabel: { show: false } }) });
  SEIS[i].forEach(arr => {
    series.push({ type: 'line', xAxisIndex: xi, yAxisIndex: yi, data: TIMES.map((t, k) => [t, arr[k]]),
      symbol: 'none', silent: true, lineStyle: { color: BLUE, width: 0.7 },
      areaStyle: { color: BLUE, opacity: 1 }, clip: true, z: 2 });
  });
  graphics.push({ type: 'text', x: 479, y: top - 27, silent: true, scaleY: 1.2,
    style: { text: SEIS_TITLES[i], fontSize: 28, fontFamily: FONT, fill: '#111', align: 'center', verticalAlign: 'middle' } });
  graphics.push({ type: 'text', x: 80, y: top - 13, silent: true, scaleY: 1.15,
    style: { text: 'x 10', fontSize: 17, fontFamily: FONT, fill: '#111', align: 'left', verticalAlign: 'middle' } });
  graphics.push({ type: 'text', x: 113, y: top - 20, silent: true,
    style: { text: SEIS_EXP[i], fontSize: 11, fontFamily: FONT, fill: '#111', align: 'left', verticalAlign: 'middle' } });
});
graphics.push({ type: 'text', x: 478, y: 670, silent: true, scaleY: 1.2,
  style: { text: 'Time (sec)', fontSize: 32, fontFamily: FONT, fill: '#111', align: 'center', verticalAlign: 'middle' } });

// ---- (b) spectra
B_POS.forEach(([left, top], i) => {
  const gi = grids.length;
  grids.push({ left, top, width: B_W, height: B_H, show: true, borderColor: '#222', borderWidth: 1 });
  const dotted = { show: true, lineStyle: { color: '#555', width: 1, type: [1, 3] } };
  const xBase = { type: 'value', min: 1.63, max: 1.65, interval: 0.005, axisLine: noLine,
    axisTick: { inside: true, length: 3, lineStyle: tickStyle } };
  const yBase = { type: 'value', min: 0, max: SPEC_YMAX[i], interval: SPEC_YSTEP[i], axisLine: noLine,
    axisTick: { inside: true, length: 3, lineStyle: tickStyle, customValues: SPEC_YTICKS[i] } };
  const [xi, yi] = addAxes(gi,
    { main: Object.assign({}, xBase, { splitLine: dotted, axisLabel: Object.assign({ fontSize: 19, margin: 8, customValues: FREQ_TICKS, formatter: plain }, labelBase) }),
      mirror: Object.assign({}, xBase, { splitLine: { show: false }, axisLabel: { show: false } }) },
    { main: Object.assign({}, yBase, { splitLine: dotted, axisLabel: Object.assign({ fontSize: 19, margin: 6, customValues: SPEC_YTICKS[i], formatter: plain }, labelBase) }),
      mirror: Object.assign({}, yBase, { splitLine: { show: false }, axisLabel: { show: false } }) });
  const colors = [BLUE, RED, GREEN];
  SPEC[i].forEach((arr, c) => {
    series.push({ type: 'line', name: COMPONENTS[c], xAxisIndex: xi, yAxisIndex: yi,
      data: FREQS.map((f, k) => [f, arr[k]]), symbol: 'none', silent: true,
      lineStyle: { color: colors[c], width: 1.5 }, itemStyle: { color: colors[c] }, clip: true, z: 2 + c });
  });
  legends.push({ data: COMPONENTS, left: left + 180, top: top + 8, orient: 'vertical', icon: 'rect',
    itemWidth: 55, itemHeight: 2, itemGap: 5, padding: [6, 10, 6, 10], selectedMode: false,
    backgroundColor: '#fff', borderColor: '#222', borderWidth: 1,
    textStyle: { fontSize: 19, fontFamily: FONT, color: '#111' } });
  const cx = left + B_W / 2;
  graphics.push({ type: 'text', x: cx, y: top - 24, silent: true, scaleY: 1.15,
    style: { text: SPEC_TITLES[i], fontSize: 23, fontFamily: FONT, fill: '#111', align: 'center', verticalAlign: 'middle' } });
  graphics.push({ type: 'text', x: left, y: top - 20, silent: true, scaleY: 1.15,
    style: { text: 'x 10', fontSize: 17, fontFamily: FONT, fill: '#111', align: 'left', verticalAlign: 'middle' } });
  graphics.push({ type: 'text', x: left + 34, y: top - 28, silent: true,
    style: { text: SPEC_EXP[i], fontSize: 12, fontFamily: FONT, fill: '#111', align: 'left', verticalAlign: 'middle' } });
  if (i % 2 === 0) {
    graphics.push({ type: 'text', x: 66, y: top + B_H / 2 - 6, rotation: Math.PI / 2, scaleX: 1.2, silent: true,
      style: { text: 'Amplitude (m/s)', fontSize: 27, fontFamily: FONT, fill: '#111', align: 'center', verticalAlign: 'middle' } });
  }
  if (i >= 2) {
    graphics.push({ type: 'text', x: cx, y: top + B_H + 43, silent: true, scaleY: 1.2,
      style: { text: 'Frequency (Hz)', fontSize: 27, fontFamily: FONT, fill: '#111', align: 'center', verticalAlign: 'middle' } });
  }
});
graphics.push({ type: 'text', x: 12, y: 18, silent: true,
  style: { text: '(a)', fontSize: 15, fontFamily: SERIF, fill: '#111', align: 'left', verticalAlign: 'middle' } });
graphics.push({ type: 'text', x: 12, y: 713, silent: true,
  style: { text: '(b)', fontSize: 15, fontFamily: SERIF, fill: '#111', align: 'left', verticalAlign: 'middle' } });

const chart = echarts.init(document.getElementById('c'), null, { renderer: 'canvas' });
chart.setOption({
  animation: false, backgroundColor: '#fff',
  grid: grids, xAxis: xAxes, yAxis: yAxes, series, legend: legends, graphic: { elements: graphics }
});
if (problems.length) throw new Error(problems.join('; '));
</script></body></html>
